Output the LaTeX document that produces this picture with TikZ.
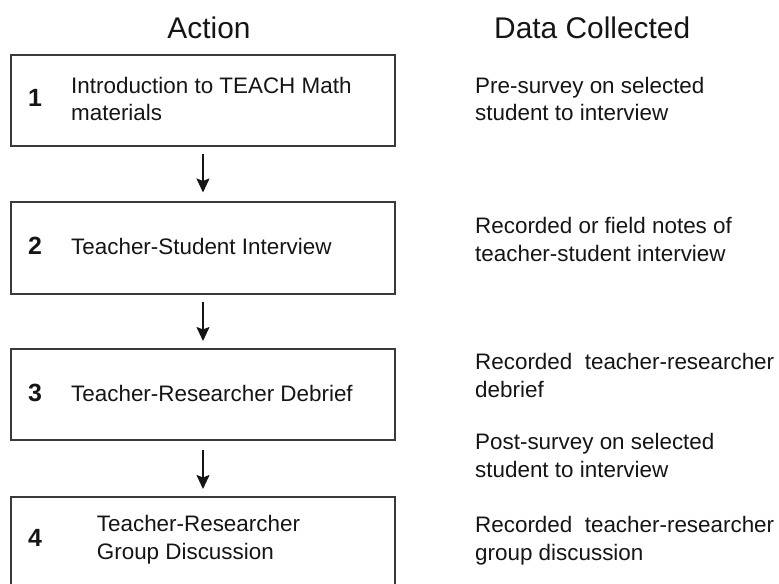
\documentclass[tikz,border=0pt]{standalone}
\usepackage{fontspec}
\setmainfont{Liberation Sans}
\usetikzlibrary{arrows.meta}
\definecolor{boxline}{HTML}{3A3A3A}
\definecolor{txt}{HTML}{151515}
\tikzset{
  box/.style={draw=boxline, line width=2bp, rectangle, minimum width=384bp, inner sep=0pt},
  arr/.style={line width=1.8bp, draw=txt, -{Stealth[length=14bp, width=13bp, inset=2.5bp]}},
  head/.style={font=\fontsize{30}{34}\selectfont, text=txt, inner sep=0pt, anchor=base},
  num/.style={font=\fontsize{25}{30}\selectfont\bfseries, text=txt, inner sep=0pt, anchor=base west},
  body/.style={font=\fontsize{22.5}{27.5}\selectfont, text=txt, inner sep=0pt, anchor=base west, align=left},
}
\begin{document}
\begin{tikzpicture}[x=1bp, y=-1bp]
\useasboundingbox (0,0) rectangle (779,584);
\clip (0,0) rectangle (779,584);
% headings
\node[head] (hA) at (209,39) {Action};
\node[head, anchor=base west] (hD) at (494,39) {Data Collected};
% boxes
\node[box, minimum height=91bp] (b1) at (203,100.5) {};
\node[box, minimum height=91bp] (b2) at (203,248) {};
\node[box, minimum height=91bp] (b3) at (203,394.5) {};
\node[box, minimum height=100bp] (b4) at (203,547) {};
% numbers
\node[num] (n1) at (28,106.7) {1};
\node[num] (n2) at (28,254) {2};
\node[num] (n3) at (28,401.7) {3};
\node[num] (n4) at (28,546.7) {4};
% action texts (base anchor = last line's baseline)
\node[body] (t1) at (71,121) {Introduction to TEACH Math\\materials};
\node[body] (t2) at (71,254) {Teacher-Student Interview};
\node[body] (t3) at (71,401.7) {Teacher-Researcher Debrief};
\node[body] (t4) at (96.7,559) {Teacher-Researcher\\Group Discussion};
% data texts
\node[body] (d1) at (475,120.7) {Pre-survey on selected\\student to interview};
\node[body] (d2) at (475,261) {Recorded or field notes of\\teacher-student interview};
\node[body] (d3) at (475,397) {Recorded\ \ teacher-researcher\\debrief};
\node[body] (d4) at (475,477) {Post-survey on selected\\student to interview};
\node[body] (d5) at (475,560) {Recorded\ \ teacher-researcher\\group discussion};
% arrows
\draw[arr, shorten <=7bp, shorten >=9bp] (b1.south) -- (b2.north);
\draw[arr, shorten <=7bp, shorten >=7bp] (b2.south) -- (b3.north);
\draw[arr, shorten <=9bp, shorten >=7bp] (b3.south) -- (b4.north);
\end{tikzpicture}
\end{document}
